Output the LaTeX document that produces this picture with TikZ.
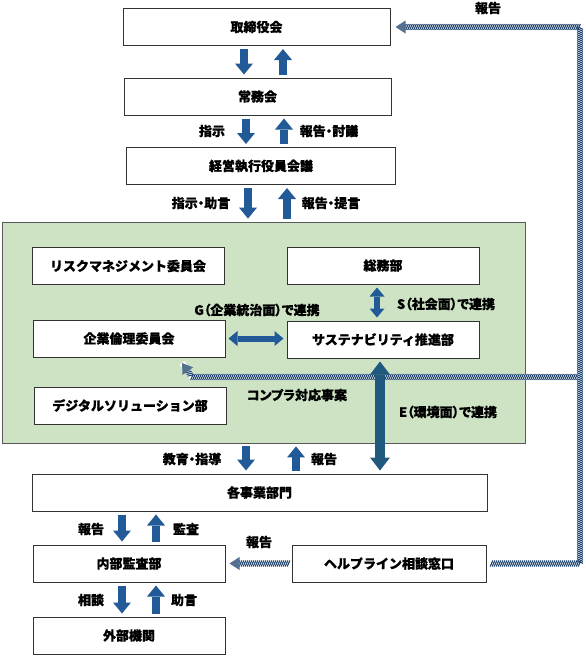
\documentclass[tikz,border=0pt]{standalone}
\usepackage{fontspec}
\setmainfont{Noto Sans CJK JP}[FakeBold=0.7]
\newfontfamily\jplabel{Noto Sans CJK JP}[FakeBold=0.7,RawFeature=+palt]
\usetikzlibrary{arrows.meta,calc,decorations.markings}
\definecolor{arrowblue}{RGB}{33,90,150}
\definecolor{envblue}{RGB}{31,89,125}
\definecolor{hatchblue}{RGB}{26,64,108}
\definecolor{panelgreen}{RGB}{205,227,196}
\tikzset{>=stealth}
\tikzset{
  org/.style={draw=black!80, line width=1pt, fill=white, minimum height=37pt,
    font=\bfseries\fontsize{13pt}{15pt}\selectfont},
  panel/.style={draw=black!65, line width=0.8pt, fill=panelgreen},
  lbl/.style={font=\jplabel\bfseries\fontsize{13pt}{15pt}\selectfont, inner sep=0pt},
  blk/.style={line width=8pt, draw=arrowblue, shorten <=3pt, shorten >=3pt,
    -{Triangle[length=11pt,width=18pt,line width=0pt]}},
  twoway/.style={line width=6pt, draw=arrowblue, shorten <=3pt, shorten >=3pt,
    {Triangle[length=9pt,width=15pt,line width=0pt]}-{Triangle[length=9pt,width=15pt,line width=0pt]}},
  hatch/.style={line width=6pt, draw=white,
    postaction={decorate, decoration={markings,
      mark=between positions 0 and -9pt step 2pt with
        {\draw[hatchblue, line width=1.1pt] (-1.3pt,-3pt) -- (1.3pt,3pt);},
      mark=at position 1 with
        {\fill[hatchblue!75!white] (0,0) -- (-10pt,6.5pt) -- (-10pt,-6.5pt) -- cycle;}}}},
}

\begin{document}
\begin{tikzpicture}[x=1pt,y=-1pt]
  \useasboundingbox (0,0) rectangle (586,657);

  % green panel behind the committees
  \node[panel, minimum width=523pt, minimum height=221pt] (grp) at (263.5,332.5) {};

  % boxes
  \node[org, minimum width=267pt] (tori) at (256.5,27) {取締役会};
  \node[org, minimum width=267pt] (jomu) at (257.5,96.5) {常務会};
  \node[org, minimum width=269pt] (keiei) at (261,166) {経営執行役員会議};
  \node[org, minimum width=192pt] (risk) at (128,266) {リスクマネジメント委員会};
  \node[org, minimum width=192pt] (somu) at (383,265.5) {総務部};
  \node[org, minimum width=192pt] (rinri) at (129,338.5) {企業倫理委員会};
  \node[org, minimum width=192pt] (susta) at (383,339.5) {サステナビリティ推進部};
  \node[org, minimum width=192pt] (dx) at (130,405.5) {デジタルソリューション部};
  \node[org, minimum width=455pt] (jigyo) at (259.5,492.5) {各事業部門};
  \node[org, minimum width=192pt] (kansa) at (129,563.5) {内部監査部};
  \node[org, minimum width=194pt] (help) at (389,563.5) {ヘルプライン相談窓口};
  \node[org, minimum width=192pt] (gaibu) at (129,635.5) {外部機関};

  % hatched report lines
  \coordinate (rt) at (580,27);     % top right corner
  \coordinate (cp) at (580,377);    % branch to the compliance line
  \coordinate (cbend) at (192,377);
  \coordinate (ctip) at (182,363);
  \draw[hatch] (cp) -- (cbend) -- (ctip);
  \draw[hatch] ($(help.east)+(5,0)$) -- (help.east -| rt) -- (rt) -- ($(tori.east)+(5,0)$);
  \draw[hatch] ($(help.west)+(-3,0)$) -- ($(kansa.east)+(4,0)$);

  % block arrows
  \draw[blk] ([xshift=-12.5pt]tori.south) -- ([xshift=-12.5pt]tori.south |- jomu.north);
  \draw[blk] ([xshift=26.5pt]tori.south |- jomu.north) -- ([xshift=26.5pt]tori.south);
  \draw[blk] ([xshift=-11.5pt]jomu.south) -- ([xshift=-11.5pt]jomu.south |- keiei.north);
  \draw[blk] ([xshift=26.5pt]jomu.south |- keiei.north) -- ([xshift=26.5pt]jomu.south);
  \draw[blk] ([xshift=-13pt]keiei.south) -- ([xshift=-13pt]keiei.south |- grp.north);
  \draw[blk] ([xshift=26pt]keiei.south |- grp.north) -- ([xshift=26pt]keiei.south);
  \draw[blk] ([xshift=-13.5pt]jigyo.north |- grp.south) -- ([xshift=-13.5pt]jigyo.north);
  \draw[blk] ([xshift=36.5pt]jigyo.north) -- ([xshift=36.5pt]jigyo.north |- grp.south);
  \draw[blk] ([xshift=-7pt]kansa.north |- jigyo.south) -- ([xshift=-7pt]kansa.north);
  \draw[blk] ([xshift=27pt]kansa.north) -- ([xshift=27pt]kansa.north |- jigyo.south);
  \draw[blk] ([xshift=-7pt]gaibu.north |- kansa.south) -- ([xshift=-7pt]gaibu.north);
  \draw[blk] ([xshift=27pt]gaibu.north) -- ([xshift=27pt]gaibu.north |- kansa.south);

  % E, S, G links
  \draw[blk, envblue, line width=10pt,
    {Triangle[length=13pt,width=20pt,line width=0pt]}-{Triangle[length=13pt,width=20pt,line width=0pt]}]
    ([xshift=-3pt]susta.south) -- ([xshift=-3pt]susta.south |- jigyo.north);
  \draw[twoway] ([xshift=-6pt]susta.north) -- ([xshift=-6pt]susta.north |- somu.south);
  \draw[twoway] (rinri.east) -- (rinri.east -| susta.west);

  % labels
  \node[lbl] (lrep0) at (488,8) {報告};
  \node[lbl] (lshiji) at (212,131) {指示};
  \node[lbl] (ltogi) at (329,131) {報告・討議};
  \node[lbl] (ljogen) at (201,203) {指示・助言};
  \node[lbl] (lteigen) at (331,203) {報告・提言};
  \node[lbl] (lg) at (257,310) {G（企業統治面）で連携};
  \node[lbl] (ls) at (446,304) {S（社会面）で連携};
  \node[lbl] (lcomp) at (297,395) {コンプラ対応事案};
  \node[lbl] (le) at (448,412) {E（環境面）で連携};
  \node[lbl] (lkyoiku) at (192,459) {教育・指導};
  \node[lbl] (lrep1) at (324,459) {報告};
  \node[lbl] (lrep2) at (91,529) {報告};
  \node[lbl] (lkansa) at (186,529) {監査};
  \node[lbl] (lrep3) at (259,542) {報告};
  \node[lbl] (lsodan) at (91,600) {相談};
  \node[lbl] (ljogen2) at (184,600) {助言};
\end{tikzpicture}
\end{document}
